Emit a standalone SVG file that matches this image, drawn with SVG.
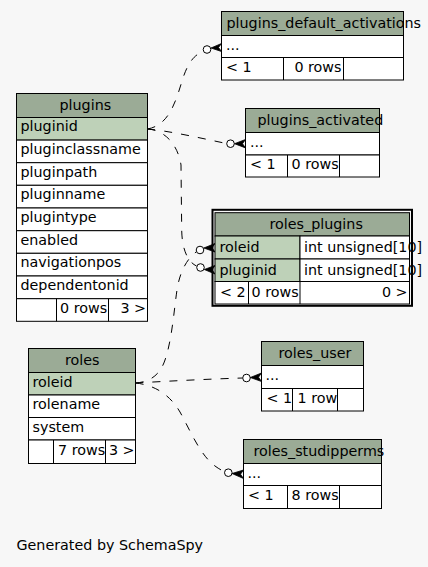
<svg xmlns="http://www.w3.org/2000/svg" width="428" height="567" viewBox="0 0 428 567">
<style>
text{font-family:"DejaVu Sans","Liberation Sans",sans-serif;font-size:14.3px;fill:#000}
.hd{fill:#9bab96;stroke:#000;stroke-width:1}
.pk{fill:#bed1b8;stroke:#000;stroke-width:1}
.cl{fill:#fff;stroke:#000;stroke-width:1}
.ln{stroke:#000;stroke-width:1;fill:none}
.e{stroke:#000;stroke-width:1;fill:none;stroke-dasharray:8,9}
.o{fill:#fff;stroke:#000;stroke-width:1}
.cr{fill:#000;stroke:#000;stroke-width:0.8}
</style>
<rect width="428" height="567" fill="#f7f7f7"/>

<g id="connectors">
<path class="e" d="M147.5,129 C170,125 176,100 183,78 C189,60 196,54 203.5,51.5"/>
<circle class="o" cx="207" cy="49.5" r="3.8"/>
<polygon class="cr" points="211,48 221.5,43.5 218.5,47.5 221.5,51.5"/>

<path class="e" d="M147.5,129 C170,131 200,138 226.5,143.5"/>
<circle class="o" cx="230.5" cy="143.7" r="3.8"/>
<polygon class="cr" points="234.5,143.7 245.5,139.5 242.5,143.7 245.5,147.9"/>

<path class="e" d="M147.5,129 C165,130 178,145 181,165 L181.7,230 C182,250 188,262 196.5,266"/>
<circle class="o" cx="200.5" cy="267.5" r="3.8"/>
<polygon class="cr" points="204.3,269.5 215,265.5 212,269.8 215,274"/>

<path class="e" d="M135.5,383 C150,382 160,375 165,360 C172,340 174,310 177,290 C180,270 188,258 196.3,251.8"/>
<circle class="o" cx="200" cy="250" r="3.8"/>
<polygon class="cr" points="203.8,248 215,243.5 212,247.8 215,252"/>

<path class="e" d="M135.5,383 C170,381 210,379 242.7,378"/>
<circle class="o" cx="246.5" cy="378" r="3.8"/>
<polygon class="cr" points="250.3,377.5 261.5,373 258.5,377.2 261.5,381.5"/>

<path class="e" d="M135.5,383 C155,385 170,395 180,412 C190,430 200,455 215,466 C219,469 222,470.5 224.5,471.5"/>
<circle class="o" cx="228.3" cy="472.7" r="3.8"/>
<polygon class="cr" points="232,473.5 243.5,470 240.5,474.2 243.5,478.5"/>
</g>

<g id="plugins_default_activations">
<rect class="hd" x="221.5" y="11.5" width="182" height="24"/>
<rect class="cl" x="221.5" y="35.5" width="182" height="22"/>
<rect class="cl" x="221.5" y="57.5" width="182" height="22.5"/>
<path class="ln" d="M283.5,57.5V80M343.5,57.5V80"/>
<text x="226.5" y="27.5">plugins_default_activations</text>
<text x="226" y="49.5">...</text>
<text x="226" y="72">&lt; 1</text>
<text x="341.5" y="72" text-anchor="end">0 rows</text>
</g>

<g id="plugins_activated">
<rect class="hd" x="245.5" y="108.5" width="134" height="24"/>
<rect class="cl" x="245.5" y="132.5" width="134" height="22.5"/>
<rect class="cl" x="245.5" y="155" width="134" height="22"/>
<path class="ln" d="M287.5,155V177M339.5,155V177"/>
<text x="257.5" y="124.5">plugins_activated</text>
<text x="250" y="146.5">...</text>
<text x="250" y="169">&lt; 1</text>
<text x="291.5" y="169">0 rows</text>
</g>

<g id="plugins">
<rect class="hd" x="16.5" y="93.5" width="131" height="24"/>
<rect class="pk" x="16.5" y="117.5" width="131" height="22.6"/>
<rect class="cl" x="16.5" y="140.1" width="131" height="22.6"/>
<rect class="cl" x="16.5" y="162.7" width="131" height="22.6"/>
<rect class="cl" x="16.5" y="185.3" width="131" height="22.7"/>
<rect class="cl" x="16.5" y="208" width="131" height="22.7"/>
<rect class="cl" x="16.5" y="230.7" width="131" height="22.6"/>
<rect class="cl" x="16.5" y="253.3" width="131" height="22.7"/>
<rect class="cl" x="16.5" y="276" width="131" height="22.7"/>
<rect class="cl" x="16.5" y="298.7" width="131" height="22.6"/>
<path class="ln" d="M56.5,298.7V321.3M108.5,298.7V321.3"/>
<text x="59.5" y="109.5">plugins</text>
<text x="20.5" y="131.3">pluginid</text>
<text x="20.5" y="154">pluginclassname</text>
<text x="20.5" y="176.5">pluginpath</text>
<text x="20.5" y="199.2">pluginname</text>
<text x="20.5" y="221.8">plugintype</text>
<text x="20.5" y="244.5">enabled</text>
<text x="20.5" y="267.2">navigationpos</text>
<text x="20.5" y="289.8">dependentonid</text>
<text x="60" y="313">0 rows</text>
<text x="146" y="313" text-anchor="end">3 &gt;</text>
</g>

<g id="roles_plugins">
<rect x="212.5" y="209.8" width="199.5" height="96" fill="none" stroke="#000" stroke-width="2"/>
<rect class="hd" x="215" y="212.7" width="194.5" height="23.3"/>
<rect class="pk" x="215" y="236" width="85" height="23"/>
<rect class="pk" x="215" y="259" width="85" height="22.5"/>
<rect class="cl" x="300" y="236" width="109.5" height="23"/>
<rect class="cl" x="300" y="259" width="109.5" height="22.5"/>
<rect class="cl" x="215" y="281.5" width="194.5" height="22.5"/>
<path class="ln" d="M248.5,281.5V304M300,281.5V304"/>
<text x="269.5" y="228.5">roles_plugins</text>
<text x="219.5" y="252">roleid</text>
<text x="219.5" y="274.5">pluginid</text>
<text x="304" y="252">int unsigned[10]</text>
<text x="304" y="274.5">int unsigned[10]</text>
<path class="ln" d="M409.5,236V281.5"/>
<text x="220" y="297">&lt; 2</text>
<text x="251.5" y="297">0 rows</text>
<text x="407.5" y="297" text-anchor="end">0 &gt;</text>
</g>

<g id="roles">
<rect class="hd" x="28.5" y="348.5" width="107" height="24"/>
<rect class="pk" x="28.5" y="372.5" width="107" height="22.5"/>
<rect class="cl" x="28.5" y="395" width="107" height="22.5"/>
<rect class="cl" x="28.5" y="417.5" width="107" height="22.5"/>
<rect class="cl" x="28.5" y="440" width="107" height="23.5"/>
<path class="ln" d="M53.5,440V463.5M105.5,440V463.5"/>
<text x="65" y="364.5">roles</text>
<text x="32.5" y="386.5">roleid</text>
<text x="32.5" y="409">rolename</text>
<text x="32.5" y="431.5">system</text>
<text x="58" y="455">7 rows</text>
<text x="134.5" y="455" text-anchor="end">3 &gt;</text>
</g>

<g id="roles_user">
<rect class="hd" x="261.5" y="341.5" width="102" height="24"/>
<rect class="cl" x="261.5" y="365.5" width="102" height="23"/>
<rect class="cl" x="261.5" y="388.5" width="102" height="22.5"/>
<path class="ln" d="M292.5,388.5V411M337.5,388.5V411"/>
<text x="278.5" y="357.5">roles_user</text>
<text x="265.5" y="379.5">...</text>
<text x="266.5" y="402.5">&lt; 1</text>
<text x="297.5" y="402.5">1 row</text>
</g>

<g id="roles_studipperms">
<rect class="hd" x="243.5" y="439.5" width="138" height="24"/>
<rect class="cl" x="243.5" y="463.5" width="138" height="22"/>
<rect class="cl" x="243.5" y="485.5" width="138" height="23"/>
<path class="ln" d="M287.5,485.5V508.5M339.5,485.5V508.5"/>
<text x="253.5" y="455.5">roles_studipperms</text>
<text x="247.5" y="477.5">...</text>
<text x="248" y="500">&lt; 1</text>
<text x="291.5" y="500">8 rows</text>
</g>

<text x="16.5" y="550">Generated by SchemaSpy</text>
</svg>
